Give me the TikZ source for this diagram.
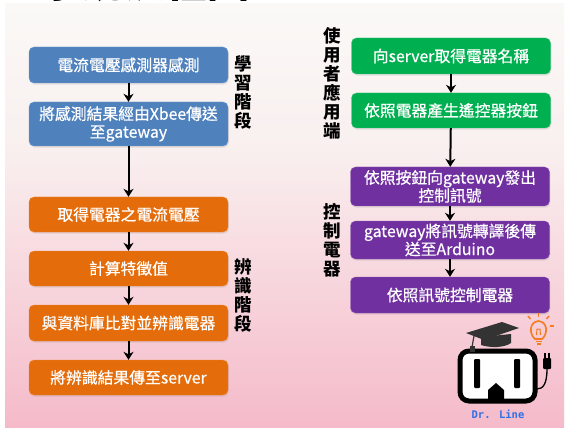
\documentclass[tikz,border=0pt]{standalone}
\usepackage{fontspec}
\newfontfamily\cjk{Noto Sans CJK TC}
\newfontfamily\cjkbox{Noto Sans CJK TC}[FakeBold=0.6]
\newfontfamily\logofont{DejaVu Sans Mono}
\usetikzlibrary{arrows.meta,shadows}

\definecolor{stepblue}{HTML}{4F81BD}
\definecolor{steporange}{HTML}{E46C0A}
\definecolor{stepgreen}{HTML}{00B050}
\definecolor{steppurple}{HTML}{7030A0}
\definecolor{bgtop}{HTML}{FAF9F7}
\definecolor{bgmid}{HTML}{F9EFEF}
\definecolor{bgbot}{HTML}{F5BACA}
\definecolor{capgray}{HTML}{333333}
\definecolor{bulborange}{HTML}{F47B20}
\definecolor{logoblue}{HTML}{2F6FE8}

\tikzset{
  procbox/.style={rounded corners=5pt, minimum width=199pt, text width=194pt,
    align=center, text=white, inner sep=0pt,
    font=\cjkbox\fontsize{15.8}{18}\selectfont,
    drop shadow={opacity=0.18, shadow xshift=0.8pt, shadow yshift=-1.6pt}},
  bluebox/.style={procbox, fill=stepblue, draw=stepblue!80!white},
  orangebox/.style={procbox, fill=steporange, draw=steporange!80!white},
  greenbox/.style={procbox, fill=stepgreen, draw=stepgreen!80!white},
  purplebox/.style={procbox, fill=steppurple, draw=steppurple!80!white},
  phase/.style={align=center, inner sep=0pt, text=black,
    font=\cjk\bfseries\fontsize{17.5}{19}\selectfont},
  flow/.style={line width=2pt, -{Stealth[length=8pt,width=10pt,inset=2.5pt]}},
}

\begin{document}
\begin{tikzpicture}[x=1pt,y=-1pt]
\useasboundingbox (0,0) rectangle (566,428);
\clip (0,0) rectangle (566,428);

% page background
\fill[white] (0,0) rectangle (566,428);
\shade[top color=bgtop, bottom color=bgmid] (5,4) rectangle (564,150);
\shade[top color=bgmid, bottom color=bgbot] (5,149.5) rectangle (564,428);

% title, running off the top edge
\node[anchor=base, inner sep=0pt, font=\cjk\bfseries\fontsize{42}{42}\selectfont] (title) at (145,-2) {系統流程圖};

% learning and recognition column
\node[bluebox, minimum height=36pt] (l1) at (128.5,65) {電流電壓感測器感測};
\node[bluebox, minimum height=44pt] (l2) at (128.5,124) {將感測結果經由Xbee傳送\\至gateway};
\node[orangebox, minimum height=35pt] (r1) at (128.5,214.5) {取得電器之電流電壓};
\node[orangebox, minimum height=35pt] (r2) at (128.5,268.5) {計算特徵值};
\node[orangebox, minimum height=36pt] (r3) at (128.5,323) {與資料庫比對並辨識電器};
\node[orangebox, minimum height=35pt] (r4) at (128.5,377.5) {將辨識結果傳至server};

\draw[flow] (l1) -- (l2);
\draw[flow] (l2) -- (r1);
\draw[flow] (r1) -- (r2);
\draw[flow] (r2) -- (r3);
\draw[flow] (r3) -- (r4);

\node[phase] (learn) at (243,92) {學\\習\\階\\段};
\node[phase] (recog) at (243,295.5) {辨\\識\\階\\段};

% user and control column
\node[greenbox, minimum height=36pt] (u1) at (451,56) {向server取得電器名稱};
\node[greenbox, minimum height=35pt] (u2) at (451,110.5) {依照電器產生遙控器按鈕};
\node[purplebox, minimum height=39pt] (c1) at (450,186.5) {依照按鈕向gateway發出\\控制訊號};
\node[purplebox, minimum height=38pt] (c2) at (450,240) {gateway將訊號轉譯後傳\\送至Arduino};
\node[purplebox, minimum height=36pt] (c3) at (450,295) {依照訊號控制電器};

\draw[flow] (u1) -- (u2);
\draw[flow] (u2) -- (c1);
\draw[flow] (c1) -- (c2);
\draw[flow] (c2) -- (c3);

\node[phase] (client) at (332,83.5) {使\\用\\者\\應\\用\\端};
\node[phase] (control) at (332,240) {控\\制\\電\\器};

% logo: socket with cap, bulb and plug
\draw[line width=5pt, fill=white, rounded corners=9pt] (460,351) rectangle (535,401);
\fill[black, rounded corners=1pt] (474,359) rectangle (480,388);
\fill[black, rounded corners=1pt] (514,359) rectangle (520,388);
\fill[black] (488,399) -- (504,399) -- (504,390) -- (496,383) -- (488,390) -- cycle;
% mortarboard
\fill[capgray] (481,337) -- (481,345) .. controls (490,348) and (504,348) .. (511,343) -- (511,334) -- cycle;
\fill[capgray] (466,333) -- (502,322) -- (519,328) -- (484,340) -- cycle;
\draw[capgray, line width=1.2pt] (474,336) -- (472,347);
\fill[capgray] (469.5,346) rectangle (474.5,352);
% bulb
\draw[bulborange, line width=1.6pt] (535,339) .. controls (529,334) and (529,322) .. (538.5,321)
  .. controls (548,322) and (548,334) .. (542,339) -- cycle;
\draw[bulborange, line width=1.5pt] (535.5,341.5) -- (541.5,341.5);
\draw[bulborange, line width=1.5pt] (536.5,344) -- (540.5,344);
\draw[bulborange, line width=1pt] (536.5,335) -- (537,329) -- (540,329) -- (540.5,335);
\draw[bulborange, line width=1.5pt] (538.5,313) -- (538.5,317);
\draw[bulborange, line width=1.5pt] (528,316) -- (530.5,319);
\draw[bulborange, line width=1.5pt] (549,316) -- (546.5,319);
\draw[bulborange, line width=1.5pt] (550,326) -- (554,326);
% plug and cord
\draw[black, line width=1.3pt] (537,389) .. controls (543,389) and (547,384) .. (547,369);
\fill[black, rounded corners=1pt] (543,358) rectangle (551,369);
\draw[black, line width=1.2pt] (545,358) -- (545,353) (549,358) -- (549,353);

\node[font=\logofont\bfseries\fontsize{10.5}{10.5}\selectfont, text=logoblue, inner sep=0pt] (brand) at (498,414) {Dr. Line};
\end{tikzpicture}
\end{document}
